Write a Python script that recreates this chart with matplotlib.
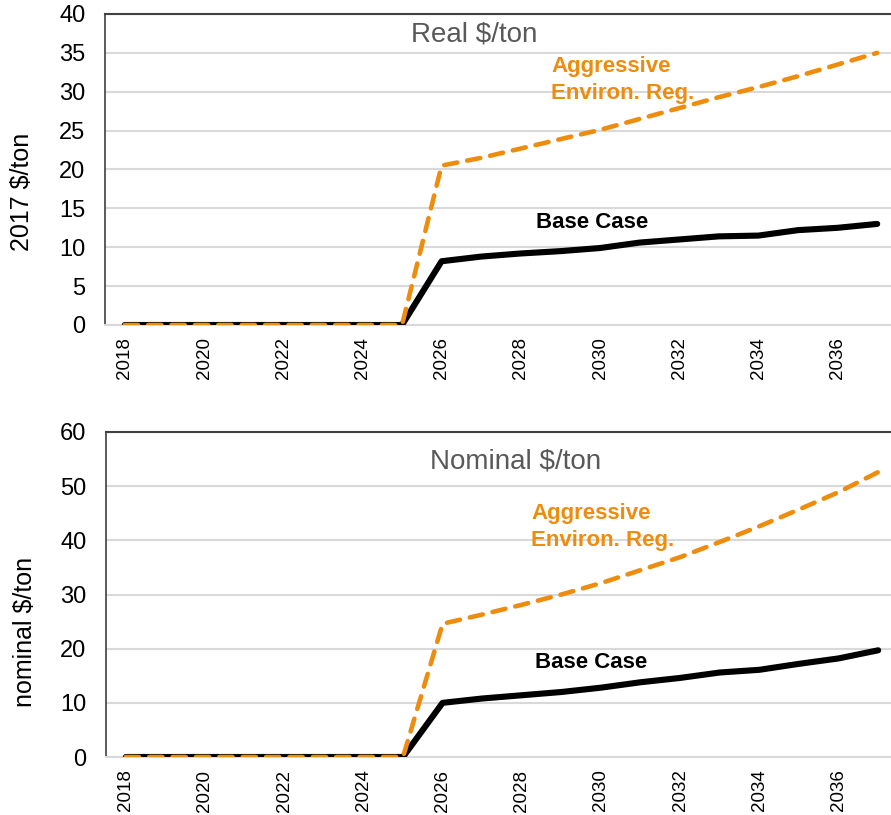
import matplotlib
matplotlib.use("Agg")
import matplotlib.pyplot as plt
import numpy as np

plt.rcParams['font.family'] = ['Liberation Sans', 'DejaVu Sans']

years = list(range(2018, 2038))
real_base = [0, 0, 0, 0, 0, 0, 0, 0, 8.2, 8.8, 9.2, 9.5, 9.9, 10.6, 11.0, 11.4, 11.5, 12.2, 12.5, 13.0]
real_aggr = [0, 0, 0, 0, 0, 0, 0, 0, 20.5, 21.5, 22.7, 23.9, 25.1, 26.5, 27.9, 29.3, 30.6, 32.0, 33.5, 35.0]
nom_base = [0, 0, 0, 0, 0, 0, 0, 0, 10.0, 10.8, 11.4, 12.0, 12.8, 13.8, 14.6, 15.6, 16.1, 17.2, 18.2, 19.7]
nom_aggr = [0, 0, 0, 0, 0, 0, 0, 0, 24.6, 26.3, 28.1, 30.0, 32.1, 34.5, 36.9, 39.7, 42.6, 45.7, 48.9, 52.6]
tick_labels = [str(y) if (y - 2018) % 2 == 0 else "" for y in years]

ORANGE = '#EE8C0E'
GRID = '#D9D9D9'
DARK = '#404040'

W, H = 891, 815
fig = plt.figure(figsize=(W / 100, H / 100), dpi=100)

def px_axes(left, top, right, bottom):
    return fig.add_axes([left / W, 1 - bottom / H, (right - left) / W, (bottom - top) / H])

ax1 = px_axes(105, 14, 897, 325)
ax2 = px_axes(106, 432, 898, 757)

def style(ax, base, aggr, ymax, ystep):
    x = np.arange(len(years))
    ax.plot(x, base, color='black', lw=4.4, solid_capstyle='round', solid_joinstyle='round', zorder=3)
    ax.plot(x, aggr, color=ORANGE, lw=3.3, linestyle=(0, (2.9, 2.2)), dash_capstyle='round', zorder=4)
    ax.set_xlim(-0.5, len(years) - 0.5)
    ax.set_ylim(0, ymax)
    ax.set_yticks(np.arange(0, ymax + 0.01, ystep))
    ax.set_xticks(x)
    ax.set_xticklabels(tick_labels, rotation=90, fontsize=13.5)
    ax.tick_params(axis='x', length=0, pad=9)
    ax.tick_params(axis='y', length=0, pad=14, labelsize=17)
    ax.grid(axis='y', color=GRID, lw=1.5, zorder=0)
    ax.set_axisbelow(True)
    ax.spines['right'].set_visible(False)
    ax.spines['top'].set_color(DARK)
    ax.spines['top'].set_linewidth(1.5)
    ax.spines['left'].set_color(DARK)
    ax.spines['left'].set_linewidth(1.2)
    ax.spines['bottom'].set_color(GRID)
    ax.spines['bottom'].set_linewidth(1.5)

style(ax1, real_base, real_aggr, 40, 5)
style(ax2, nom_base, nom_aggr, 60, 10)

def ftext(xp, yp, s, **kw):
    fig.text(xp / W, 1 - yp / H, s, **kw)

ftext(474, 35, "Real $/ton", ha='center', va='center', fontsize=20, color='#595959')
ftext(516, 462, "Nominal $/ton", ha='center', va='center', fontsize=20, color='#595959')

ftext(551, 80, "Aggressive\nEnviron. Reg.", ha='left', va='center', fontsize=16,
      fontweight='bold', color=ORANGE, linespacing=1.33)
ftext(531, 527, "Aggressive\nEnviron. Reg.", ha='left', va='center', fontsize=16,
      fontweight='bold', color=ORANGE, linespacing=1.33)
ftext(592, 223, "Base Case", ha='center', va='center', fontsize=16, fontweight='bold', color='black')
ftext(591, 662, "Base Case", ha='center', va='center', fontsize=16, fontweight='bold', color='black')

ftext(22, 192, "2017 $/ton", ha='center', va='center', rotation=90, fontsize=18)
ftext(25, 632, "nominal $/ton", ha='center', va='center', rotation=90, fontsize=18)

fig.savefig("out.png", dpi=100)
